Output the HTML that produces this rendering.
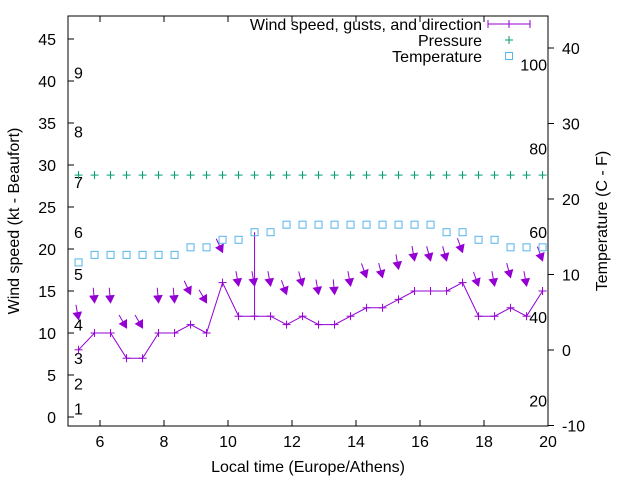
<!DOCTYPE html>
<html><head><meta charset="utf-8"><style>
body{margin:0;background:#fff}
svg{font-family:"Liberation Sans",sans-serif;font-size:16px}
</style></head><body>
<svg id="chart" width="640" height="480">
<g id="axes"></g><g id="marks"></g><g id="legend"></g>
</svg>
<script>
const hours = [];
for (let i = 0; i < 30; i++) hours.push(5.33 + 0.5 * i);
const windKt = [8,10,10,7,7,10,10,11,10,16,12,12,12,11,12,11,11,12,13,13,14,15,15,15,16,12,12,13,12,15];
const gustKt = [null,null,null,null,null,null,null,null,null,null,null,22,null,null,null,null,null,null,null,null,null,null,null,null,null,null,null,null,null,null];
const windDir = [350,355,355,330,330,355,355,335,330,335,350,350,350,340,345,350,355,350,340,345,350,350,345,345,340,340,350,345,350,340];
const pressure = [28.8,28.8,28.8,28.8,28.8,28.8,28.8,28.8,28.8,28.8,28.8,28.8,28.8,28.8,28.8,28.8,28.8,28.8,28.8,28.8,28.8,28.8,28.8,28.8,28.8,28.8,28.8,28.8,28.8,28.8];
const tempC = [11.6,12.6,12.6,12.6,12.6,12.6,12.6,13.6,13.6,14.6,14.6,15.6,15.6,16.6,16.6,16.6,16.6,16.6,16.6,16.6,16.6,16.6,16.6,15.6,15.6,14.6,14.6,13.6,13.6,13.6];
const xTicks = [6,8,10,12,14,16,18,20];
const yTicks = [0,5,10,15,20,25,30,35,40,45];
const y2Ticks = [-10,0,10,20,30,40];
const beaufort = [[1,1.0],[2,4.0],[3,7.0],[4,11.0],[5,17.0],[6,22.0],[7,28.0],[8,34.0],[9,41.0]];
const fahrenheit = [[20,-6.7],[40,4.4],[60,15.6],[80,26.7],[100,37.8]];

const L=68,R=548,T=16,B=426;
const X=h=>L+(h-5)*(R-L)/15;
const Y=v=>417-v*8.4;
const Y2=t=>350-t*7.55;
const NS="http://www.w3.org/2000/svg";
function mk(tag,attrs,parent,text){const e=document.createElementNS(NS,tag);for(const k in attrs)e.setAttribute(k,attrs[k]);if(text!==undefined)e.textContent=text;parent.appendChild(e);return e;}
const ax=document.getElementById('axes'),mg=document.getElementById('marks'),lg=document.getElementById('legend');
let e=mk('rect',{x:L,y:T,width:R-L,height:B-T,fill:'none',stroke:'#000','stroke-width':1},ax);


yTicks.forEach(v=>{const y=Y(v);mk('line',{x1:L,x2:L+6,y1:y,y2:y,stroke:'#000'},ax);
 e=mk('text',{x:L-12,y:y+6,'text-anchor':'end'},ax,String(v));
 
 });
y2Ticks.forEach(v=>{const y=Y2(v);mk('line',{x1:R,x2:R+6,y1:y,y2:y,stroke:'#000'},ax);
 e=mk('text',{x:R+14,y:y+6,'text-anchor':'start'},ax,String(v));
 
 });
xTicks.forEach(v=>{const x=X(v);mk('line',{x1:x,x2:x,y1:B,y2:B-6,stroke:'#000'},ax);mk('line',{x1:x,x2:x,y1:T,y2:T+6,stroke:'#000'},ax);
 e=mk('text',{x:x,y:B+21,'text-anchor':'middle'},ax,String(v));
 
 });
beaufort.forEach(b=>{e=mk('text',{x:74,y:Y(b[1])+6},ax,String(b[0]));
 
 });
fahrenheit.forEach(f=>{e=mk('text',{x:547,y:Y2(f[1])+6,'text-anchor':'end'},ax,String(f[0]));
 
 });
e=mk('text',{x:308,y:472,'text-anchor':'middle'},ax,'Local time (Europe/Athens)');


e=mk('text',{x:0,y:0,'text-anchor':'middle',transform:'translate(19,221) rotate(-90)'},ax,'Wind speed (kt - Beaufort)');


e=mk('text',{x:0,y:0,'text-anchor':'middle',transform:'translate(607,221) rotate(-90)'},ax,'Temperature (C - F)');



const P='#9400d3',G='#009e73',C='#56b4e9';
function plus(x,y,col,name){const g=mk('g',{},mg);mk('line',{x1:x-4,x2:x+4,y1:y,y2:y,stroke:col},g);mk('line',{x1:x,x2:x,y1:y-4,y2:y+4,stroke:col},g);
 
 }
// wind line
e=mk('polyline',{points:hours.map((h,i)=>X(h)+','+Y(windKt[i])).join(' '),fill:'none',stroke:P,'stroke-width':1},mg);


hours.forEach((h,i)=>{plus(X(h),Y(windKt[i]),P,'wind-point');
 if(gustKt[i]!==null){e=mk('line',{x1:X(h),x2:X(h),y1:Y(windKt[i]),y2:Y(gustKt[i]),stroke:P},mg);
  
  }});
// direction arrows
hours.forEach((h,i)=>{const r=windDir[i]*Math.PI/180;const dx=-Math.sin(r),dy=Math.cos(r);
 const hx=X(h),hy=Y(windKt[i]+3.6),len=15;const tx=hx-dx*len,ty=hy-dy*len;
 const g=mk('g',{},mg);
 
 
 mk('line',{x1:tx,y1:ty,x2:hx,y2:hy,stroke:P,'stroke-width':1},g);
 const px=-dy,py=dx;
 mk('polygon',{points:`${hx},${hy} ${hx-dx*7+px*4},${hy-dy*7+py*4} ${hx-dx*7-px*4},${hy-dy*7-py*4}`,fill:P,stroke:P},g);});
hours.forEach((h,i)=>plus(X(h),Y(pressure[i]),G,'pressure-point'));
hours.forEach((h,i)=>{e=mk('rect',{x:X(h)-3.5,y:Y2(tempC[i])-3.5,width:7,height:7,fill:'none',stroke:C},mg);
 
 });
// legend
const items=[['Wind speed, gusts, and direction',P,'wind'],['Pressure',G,'p'],['Temperature',C,'t']];
items.forEach((it,k)=>{const y=24+k*16;const g=mk('g',{},lg);
 
 
 mk('text',{x:482,y:y+6,'text-anchor':'end'},g,it[0]);
 if(it[2]==='wind'){mk('line',{x1:488,x2:530,y1:y,y2:y,stroke:P},g);mk('line',{x1:488,x2:488,y1:y-4,y2:y+4,stroke:P},g);mk('line',{x1:530,x2:530,y1:y-4,y2:y+4,stroke:P},g);mk('line',{x1:505,x2:513,y1:y,y2:y,stroke:P},g);mk('line',{x1:509,x2:509,y1:y-4,y2:y+4,stroke:P},g);}
 else if(it[2]==='p'){mk('line',{x1:505,x2:513,y1:y,y2:y,stroke:G},g);mk('line',{x1:509,x2:509,y1:y-4,y2:y+4,stroke:G},g);}
 else mk('rect',{x:505.5,y:y-3.5,width:7,height:7,fill:'none',stroke:C},g);});
</script>
</body></html>
